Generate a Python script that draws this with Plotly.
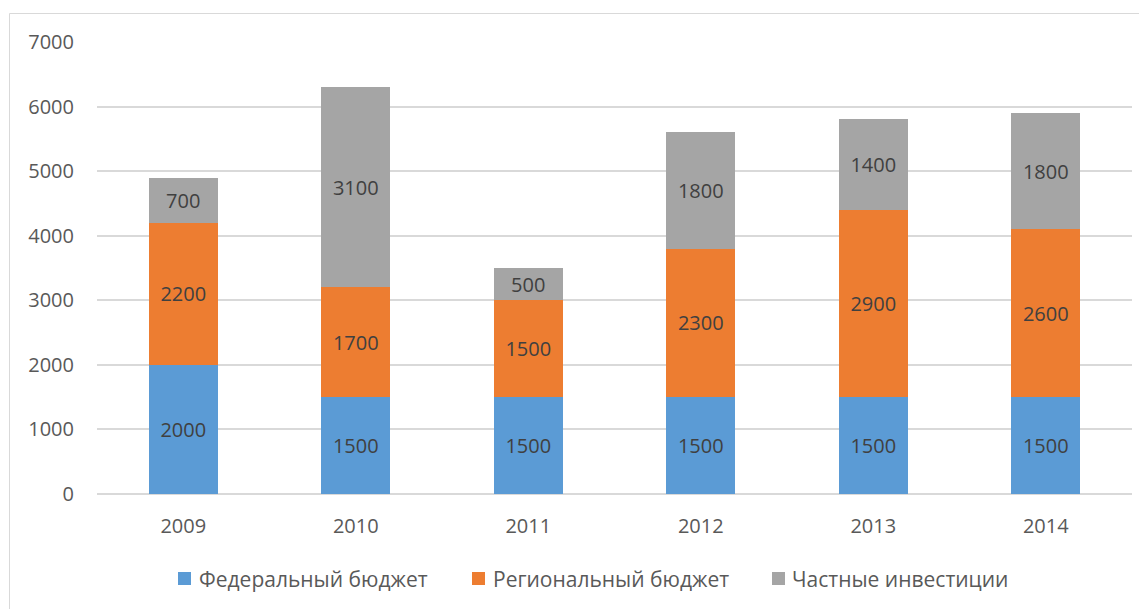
import plotly.graph_objects as go

years = ["2009", "2010", "2011", "2012", "2013", "2014"]
federal = [2000, 1500, 1500, 1500, 1500, 1500]
regional = [2200, 1700, 1500, 2300, 2900, 2600]
private = [700, 3100, 500, 1800, 1400, 1800]

names = ["Федеральный бюджет", "Региональный бюджет", "Частные инвестиции"]
colors = ["#5B9BD5", "#ED7D31", "#A5A5A5"]
series = [federal, regional, private]

FONT = "Open Sans, sans-serif"

# page has an 8px body margin; positions below are reference pixels minus 8
OFF = 8
W, H = 1147 - OFF, 609 - OFF
L, T = 97 - OFF, 42 - OFF
PR, PB = 1132 - OFF, 494 - OFF
R, B = W - PR, H - PB
pw, ph = PR - L, PB - T


def px_x(p):
    return (p - OFF - L) / pw


def px_y(p):
    return (PB - (p - OFF)) / ph


fig = go.Figure()
for name, vals, col in zip(names, series, colors):
    fig.add_trace(go.Bar(
        x=years, y=vals, name=name,
        marker=dict(color=col, line=dict(width=0)),
        text=[str(v) for v in vals],
        textposition="inside", insidetextanchor="middle", textangle=0,
        textfont=dict(family=FONT, size=20, color="#404040"),
        hoverinfo="x+y+name", showlegend=False,
    ))

shapes = [dict(type="rect", xref="paper", yref="paper",
               x0=px_x(9.5), x1=px_x(1146), y0=px_y(620), y1=px_y(13.5),
               line=dict(color="#D9D9D9", width=1), fillcolor="rgba(0,0,0,0)",
               layer="below")]
annotations = []
leg_sq = [178, 472, 772]
leg_tx = [197, 491, 790]
for name, col, sx, tx in zip(names, colors, leg_sq, leg_tx):
    shapes.append(dict(type="rect", xref="paper", yref="paper",
                       x0=px_x(sx), x1=px_x(sx + 13),
                       y0=px_y(585), y1=px_y(572),
                       line=dict(width=0), fillcolor=col))
    annotations.append(dict(text=name, xref="paper", yref="paper",
                            x=px_x(tx), y=px_y(578.5), xanchor="left", yanchor="middle",
                            showarrow=False,
                            font=dict(family=FONT, size=21, color="#595959")))

fig.update_layout(
    width=W, height=H,
    barmode="stack", bargap=0.6,
    plot_bgcolor="white", paper_bgcolor="white",
    margin=dict(l=L, r=R, t=T, b=B, pad=0),
    font=dict(family=FONT, size=20, color="#595959"),
    uniformtext=dict(mode="show", minsize=20),
    showlegend=False,
    xaxis=dict(showgrid=False, showline=False, ticks="", ticklabelstandoff=18,
               tickfont=dict(family=FONT, size=20, color="#595959")),
    yaxis=dict(range=[0, 7000], dtick=1000, showgrid=True, gridcolor="#D9D9D9",
               gridwidth=1.5, zeroline=True, zerolinecolor="#D9D9D9", zerolinewidth=1.5,
               showline=False, ticks="", ticklabelstandoff=22,
               tickfont=dict(family=FONT, size=20, color="#595959")),
    shapes=shapes,
    annotations=annotations,
)

fig.write_html("out.html")
